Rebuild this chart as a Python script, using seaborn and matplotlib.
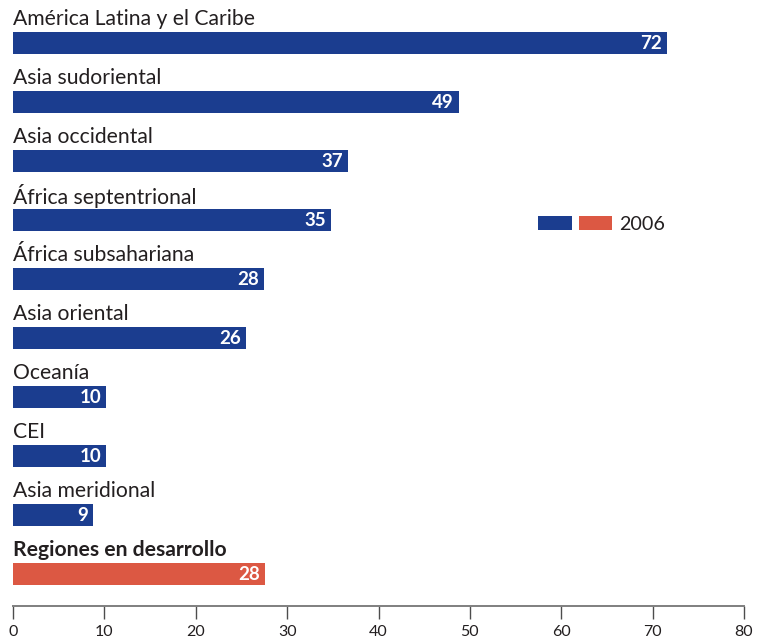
import matplotlib
matplotlib.use("Agg")
import matplotlib.pyplot as plt
import seaborn as sns
import pandas as pd
from matplotlib.patches import Patch

categories = ["América Latina y el Caribe", "Asia sudoriental", "Asia occidental",
              "África septentrional", "África subsahariana", "Asia oriental",
              "Oceanía", "CEI", "Asia meridional", "Regiones en desarrollo"]
values = [71.6, 48.8, 36.7, 34.8, 27.5, 25.5, 10.2, 10.2, 8.8, 27.6]
value_labels = ["72", "49", "37", "35", "28", "26", "10", "10", "9", "28"]
groups = ["region"] * 9 + ["total"]
xticks = [0, 10, 20, 30, 40, 50, 60, 70, 80]
legend_label = "2006"

BLUE = "#1b3d8f"
RED = "#dc5843"
TXT = "#231f20"

sns.set_theme(style="white")
plt.rcParams["font.family"] = ["Lato", "DejaVu Sans"]

df = pd.DataFrame({"cat": categories, "val": values, "grp": groups})

fig = plt.figure(figsize=(7.57, 6.4), dpi=100)
ax = fig.add_axes([13/757, 1 - 606/640, (744 - 13)/757, 606/640])

sns.barplot(data=df, y="cat", x="val", hue="grp", palette={"region": BLUE, "total": RED},
            orient="h", width=0.373, dodge=False, legend=False, ax=ax, saturation=1,
            linewidth=0)

ax.set_xlim(0, 80)
ax.set_ylim(9.54, -0.729)
ax.set_yticks([])
ax.set_xticks(xticks)
ax.set_xticklabels([str(t) for t in xticks], fontsize=11.5, color=TXT)
ax.set_xlabel("")
ax.set_ylabel("")
for s in ["top", "right", "left"]:
    ax.spines[s].set_visible(False)
ax.spines["bottom"].set_color("#7f7f7f")
ax.spines["bottom"].set_linewidth(1.4)
ax.tick_params(axis="x", direction="out", length=9, width=1.0, color="#4d4d4d",
               pad=5, bottom=True)

for i, (c, v, lab) in enumerate(zip(categories, values, value_labels)):
    ax.text(0, i - 0.41, c, ha="left", va="center", fontsize=15.2, color=TXT,
            fontweight="bold" if i == len(categories) - 1 else "normal")
    ax.text(v - 0.55, i, lab, ha="right", va="center", fontsize=13.5, color="white",
            fontweight="bold")

handles = [Patch(facecolor=BLUE, edgecolor="none"), Patch(facecolor=RED, edgecolor="none")]
fig.legend(handles, ["", legend_label], ncol=2, loc="center left",
           bbox_to_anchor=(538/757, 1 - 224/640), frameon=False, fontsize=14.2,
           handlelength=1.7, handleheight=0.72, handletextpad=0.36, columnspacing=0,
           borderpad=0, borderaxespad=0, labelcolor=TXT)

fig.savefig("out.png", dpi=100)
